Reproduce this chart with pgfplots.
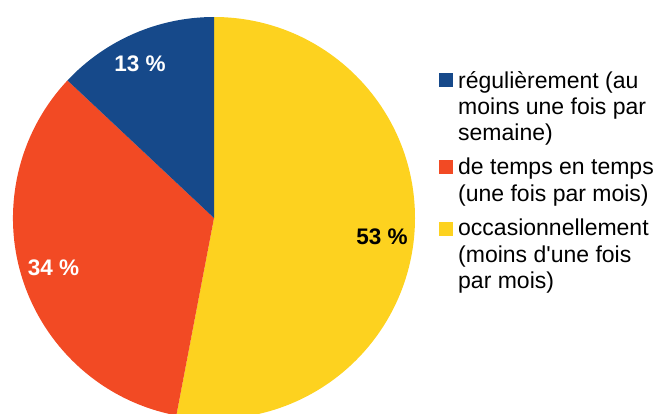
\documentclass[border=0pt]{standalone}
\usepackage{pgfplots}
\pgfplotsset{compat=1.18}
\usepackage{fontspec}
\setmainfont{Liberation Sans}
\definecolor{cblue}{HTML}{16498A}
\definecolor{cred}{HTML}{F24A24}
\definecolor{cyellow}{HTML}{FDD21F}
\begin{document}
\begin{tikzpicture}
\useasboundingbox (0,0) rectangle (661pt,414pt);
\def\va{13}\def\vb{34}\def\vc{53}
\begin{axis}[at={(0,0)},anchor=south west,scale only axis,width=661pt,height=414pt,
  xmin=0,xmax=661,ymin=0,ymax=414,y dir=reverse,hide axis,clip=true]
\pgfmathsetmacro{\aA}{90}
\pgfmathsetmacro{\aB}{90-3.6*\vc}
\pgfmathsetmacro{\aC}{90-3.6*(\vc+\vb)}
\pgfmathsetmacro{\aD}{90-3.6*(\vc+\vb+\va)}
\fill[cyellow] (axis cs:214,218) -- ++(\aA:201pt) arc[start angle=\aA,end angle=\aB,radius=201pt] -- cycle;
\fill[cred] (axis cs:214,218) -- ++(\aB:201pt) arc[start angle=\aB,end angle=\aC,radius=201pt] -- cycle;
\fill[cblue] (axis cs:214,218) -- ++(\aC:201pt) arc[start angle=\aC,end angle=\aD,radius=201pt] -- cycle;
\begin{scope}[every node/.style={font=\fontsize{22.5}{26}\selectfont\bfseries,inner sep=0pt}]
\node[white,anchor=base] at (axis cs:140,72) {\va\ \%};
\node[white,anchor=base] at (axis cs:53.5,275) {\vb\ \%};
\node[black,anchor=base] at (axis cs:382,244) {\vc\ \%};
\end{scope}
\fill[cblue] (axis cs:438.5,73) rectangle (axis cs:452.5,87);
\fill[cred] (axis cs:438.5,160.5) rectangle (axis cs:452.5,174.5);
\fill[cyellow] (axis cs:438.5,221.5) rectangle (axis cs:452.5,235.5);
\begin{scope}[every node/.style={font=\fontsize{23}{26}\selectfont,inner sep=0pt,anchor=base west}]
\node at (axis cs:458,89) {régulièrement (au};
\node at (axis cs:458,115) {moins une fois par};
\node at (axis cs:458,141) {semaine)};
\node at (axis cs:458,175) {de temps en temps};
\node at (axis cs:458,201) {(une fois par mois)};
\node at (axis cs:458,236) {occasionnellement};
\node at (axis cs:458,262) {(moins d\textquotesingle une fois};
\node at (axis cs:458,288) {par mois)};
\end{scope}
\end{axis}
\end{tikzpicture}
\end{document}
